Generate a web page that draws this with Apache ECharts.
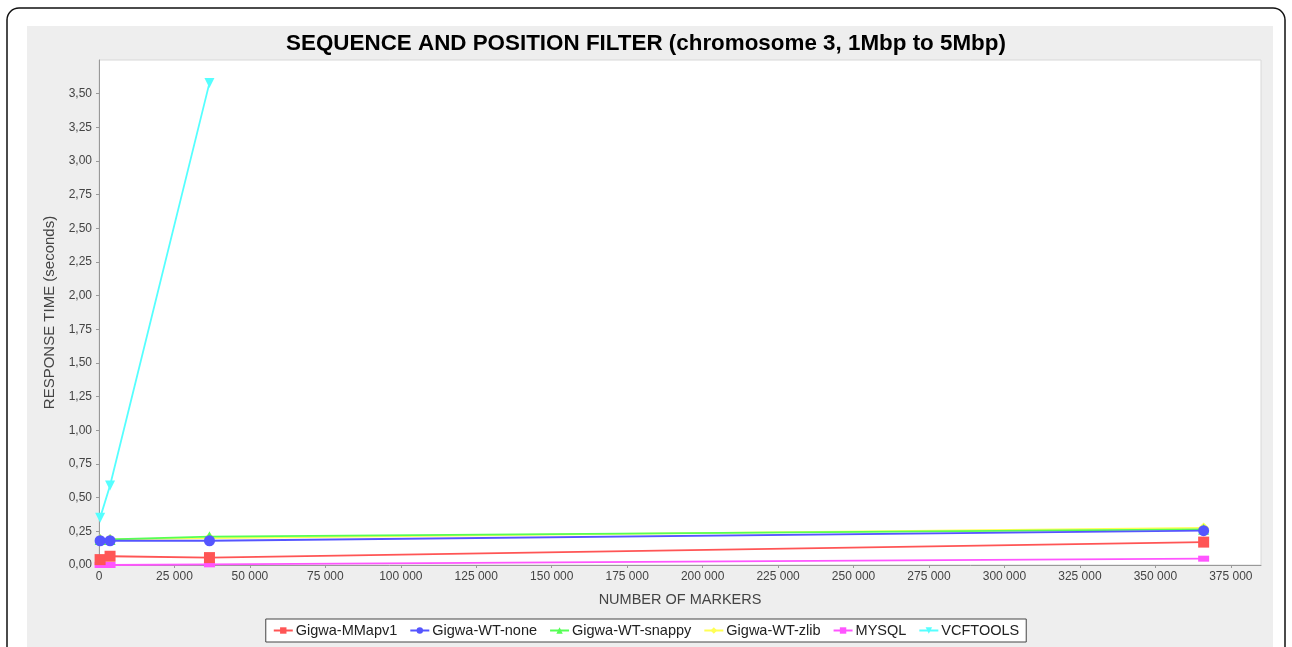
<!DOCTYPE html>
<html>
<head>
<meta charset="utf-8">
<script src="https://cdn.jsdelivr.net/npm/echarts@6/dist/echarts.min.js"></script>
<style>
html,body{margin:0;padding:0;background:#fff;}
#chart{width:1292px;height:647px;}
</style>
</head>
<body>
<div id="chart"></div>
<script>
var titleText = 'SEQUENCE AND POSITION FILTER (chromosome 3, 1Mbp to 5Mbp)';
var xName = 'NUMBER OF MARKERS';
var yName = 'RESPONSE TIME (seconds)';
var markers = [366, 3660, 36600, 366000];
var seriesNames = ['Gigwa-MMapv1', 'Gigwa-WT-none', 'Gigwa-WT-snappy', 'Gigwa-WT-zlib', 'MYSQL', 'VCFTOOLS'];
var mmapv1 = [0.04, 0.065, 0.055, 0.17];
var wtNone = [0.18, 0.18, 0.18, 0.255];
var wtSnappy = [0.19, 0.19, 0.21, 0.265];
var wtZlib = [0.19, 0.19, 0.20, 0.275];
var mysql = [0.0, 0.0, 0.005, 0.047];
var vcftools = [0.35, 0.59, 3.58];

var colors = ['#ff5555', '#5555ff', '#55ff55', '#ffff55', '#ff55ff', '#55ffff'];
var symbols = ['rect', 'circle', 'triangle', 'diamond', 'rect', 'path://M0,0 L10,0 L5,10 Z'];
var sizes = [11, 11, 11, 11, [11, 6], 10];
var values = [mmapv1, wtNone, wtSnappy, wtZlib, mysql, vcftools];

function pairs(vals) {
  var out = [];
  for (var i = 0; i < vals.length; i++) out.push([markers[i], vals[i]]);
  return out;
}
function fmtThousands(v) {
  return String(Math.round(v)).replace(/\B(?=(\d{3})+(?!\d))/g, ' ');
}

var series = seriesNames.map(function (n, i) {
  return {
    name: n,
    type: 'line',
    data: pairs(values[i]),
    symbol: symbols[i],
    symbolSize: sizes[i],
    showSymbol: true,
    color: colors[i],
    lineStyle: { width: 1.8, color: colors[i] },
    itemStyle: { color: colors[i] },
    z: 10 - i
  };
});

var chart = echarts.init(document.getElementById('chart'));
chart.setOption({
  animation: false,
  backgroundColor: '#ffffff',
  graphic: [
    { type: 'rect', z: -20, shape: { x: 7, y: 8, width: 1278, height: 680, r: 12 },
      style: { fill: '#ffffff', stroke: '#111', lineWidth: 1.5 } },
    { type: 'rect', z: -10, shape: { x: 27, y: 26, width: 1246, height: 640 },
      style: { fill: '#eeeeee' } }
  ],
  title: {
    text: titleText, left: 'center', top: 28,
    textStyle: { fontFamily: 'Liberation Sans, Arial', fontWeight: 'bold', fontSize: 22.4, color: '#000' }
  },
  legend: {
    data: seriesNames,
    left: 'center', top: 619,
    backgroundColor: '#ffffff', borderColor: '#444', borderWidth: 1,
    padding: [4, 7, 4, 7], itemGap: 12, itemWidth: 19, itemHeight: 8,
    textStyle: { fontFamily: 'Liberation Sans, Arial', fontSize: 14.5, color: '#222', padding: [0, 0, 0, -2] }
  },
  grid: {
    left: 99, right: 31, top: 60, bottom: 82,
    show: true, backgroundColor: '#ffffff', borderColor: '#d8d8d8', borderWidth: 1
  },
  xAxis: {
    type: 'value', min: 0, max: 385000, interval: 25000,
    name: xName, nameLocation: 'middle', nameGap: 27,
    nameTextStyle: { fontFamily: 'Liberation Sans, Arial', fontSize: 14.5, color: '#444' },
    axisLine: { show: true, onZero: false, lineStyle: { color: '#999' } },
    axisTick: { show: true, length: 3, lineStyle: { color: '#999' } },
    splitLine: { show: false },
    axisLabel: { fontFamily: 'Liberation Sans, Arial', fontSize: 12, color: '#444', margin: 6,
      showMaxLabel: false, formatter: function (v) { return fmtThousands(v); } }
  },
  yAxis: {
    type: 'value', min: 0, max: 3.75, interval: 0.25,
    name: yName, nameLocation: 'middle', nameGap: 41, nameRotate: 90,
    nameTextStyle: { fontFamily: 'Liberation Sans, Arial', fontSize: 15, color: '#444' },
    axisLine: { show: true, lineStyle: { color: '#999' } },
    axisTick: { show: true, length: 3, lineStyle: { color: '#999' } },
    splitLine: { show: false },
    axisLabel: { fontFamily: 'Liberation Sans, Arial', fontSize: 12, color: '#444', margin: 7,
      showMaxLabel: false, formatter: function (v) { return v.toFixed(2).replace('.', ','); } }
  },
  series: series
});
</script>
</body>
</html>
